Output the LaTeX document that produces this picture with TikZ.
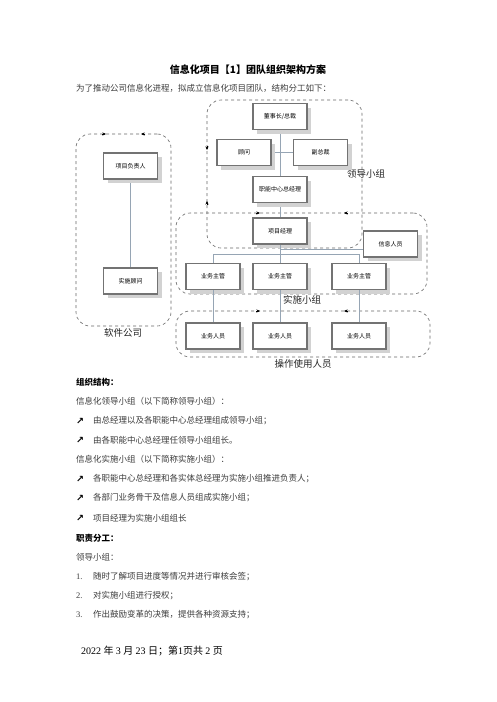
\documentclass[tikz,border=0pt]{standalone}
\usepackage{fontspec}
\newfontfamily\cjkfont{Noto Sans CJK SC}
\newfontfamily\serfont{Liberation Serif}
\newfontfamily\symfont{DejaVu Sans}
\usetikzlibrary{shadows,arrows.meta}
\definecolor{conn}{RGB}{150,165,180}
\definecolor{bodytxt}{RGB}{60,60,60}
\tikzset{
  x=1pt,y=-1pt,
  orgbox/.style={draw={rgb,255:red,115;green,115;blue,115}, line width=1.4pt, fill=white,
    minimum width=54pt, minimum height=26pt, inner sep=0pt,
    font=\cjkfont\fontsize{6}{7}\selectfont,
    drop shadow={shadow xshift=4pt, shadow yshift=-4pt, fill=gray!35, opacity=1}},
  grp/.style={draw=gray!80!black, dashed, line width=0.6pt, rounded corners=14pt, inner sep=0pt},
  grplabel/.style={font=\cjkfont\fontsize{9.5}{11}\selectfont, text=black!85, inner sep=0pt},
  conline/.style={draw=conn, line width=0.7pt},
  arrmark/.style={-{Stealth[length=3.5pt,width=3pt]}, draw=black, line width=0.4pt},
  bodyline/.style={anchor=west, inner sep=0pt, font=\cjkfont\fontsize{8.5}{10}\selectfont, text=bodytxt},
  headline/.style={anchor=west, inner sep=0pt, font=\cjkfont\bfseries\fontsize{8.5}{10}\selectfont, text=black},
  bul/.style={anchor=center, inner sep=0pt, font=\symfont\bfseries\fontsize{9.5}{10}\selectfont, text=black},
  numb/.style={anchor=west, inner sep=0pt, font=\serfont\fontsize{8.5}{10}\selectfont, text=bodytxt},
}
\begin{document}
\begin{tikzpicture}
\useasboundingbox[fill=white] (0,0) rectangle (496,702);

% title and intro
\node[inner sep=0pt, font=\cjkfont\bfseries\fontsize{10}{12}\selectfont] (title) at (248,70) {信息化项目【1】团队组织架构方案};
\node[bodyline] (intro) at (76,88) {为了推动公司信息化进程，拟成立信息化项目团队，结构分工如下：};

% group boxes
\node[grp, minimum width=155pt, minimum height=148pt] (lead) at (284.5,174) {};
\node[grp, minimum width=95pt, minimum height=192pt] (soft) at (123.5,230) {};
\node[grp, minimum width=251pt, minimum height=81pt] (impl) at (301.5,253.5) {};
\node[grp, minimum width=254pt, minimum height=46pt] (ops) at (303,334) {};

% arrow marks on group boxes
\draw[arrmark] (207,146) -- (207,150);
\draw[arrmark] (207,205) -- (207,201);
\draw[arrmark] (102,134) -- (106,134);
\draw[arrmark] (145,134) -- (141,134);
\draw[arrmark] (256,213) -- (260,213);
\draw[arrmark] (348,213) -- (344,213);
\draw[arrmark] (256,311) -- (260,311);
\draw[arrmark] (348,311) -- (344,311);

% group labels
\node[grplabel] (llead) at (366,174) {领导小组};
\node[grplabel] (limpl) at (302,300) {实施小组};
\node[grplabel] (lsoft) at (123,333) {软件公司};
\node[grplabel] (lops) at (303,364) {操作使用人员};

% connectors (drawn first, under boxes)
\draw[conline] (280,130) -- (280,218);
\draw[conline] (244,152.5) -- (320.5,152.5);
\draw[conline] (130.5,179) -- (130.5,268);

% org boxes
\node[orgbox] (dsz) at (280,116.5) {董事长/总裁};
\node[orgbox] (gw) at (244,152.5) {顾问};
\node[orgbox] (fzc) at (320.5,152.5) {副总裁};
\node[orgbox] (zn) at (280,189.5) {职能中心总经理};
\node[orgbox] (xmfz) at (130.5,166) {项目负责人};
\node[orgbox] (ssgw) at (130.5,281) {实施顾问};
\node[orgbox] (pm) at (280,231) {项目经理};
\node[orgbox] (xx) at (390.5,244) {信息人员};
\node[orgbox] (zg1) at (213,276.5) {业务主管};
\node[orgbox] (zg2) at (280,276.5) {业务主管};
\node[orgbox] (zg3) at (359,276.5) {业务主管};
\node[orgbox] (ry1) at (213,336) {业务人员};
\node[orgbox] (ry2) at (280,336) {业务人员};
\node[orgbox] (ry3) at (359,336) {业务人员};

% lower connectors
\draw[conline] (pm.south) -- ++(0,10) coordinate (j);
\draw[conline] (j) -| (zg1.north);
\draw[conline] (j) -| (zg3.north);
\draw[conline] (j) -- (zg2.north);
\path (pm.south) ++(0,5) coordinate (k);
\draw[conline] (k) -- (k -| xx.west);
\draw[conline] (zg1.south) -- (ry1.north);
\draw[conline] (zg2.south) -- (ry2.north);
\draw[conline] (zg3.south) -- (ry3.north);

% text section
\node[headline] (h1) at (76,382) {组织结构：};
\node[bodyline] (t1) at (76,401) {信息化领导小组（以下简称领导小组）：};
\node[bul] (b1) at (80,421) {↗};
\node[bodyline] (t2) at (93,421) {由总经理以及各职能中心总经理组成领导小组；};
\node[bul] (b2) at (80,440) {↗};
\node[bodyline] (t3) at (93,440) {由各职能中心总经理任领导小组组长。};
\node[bodyline] (t4) at (76,459) {信息化实施小组（以下简称实施小组）：};
\node[bul] (b3) at (80,479) {↗};
\node[bodyline] (t5) at (93,479) {各职能中心总经理和各实体总经理为实施小组推进负责人；};
\node[bul] (b4) at (80,498) {↗};
\node[bodyline] (t6) at (93,498) {各部门业务骨干及信息人员组成实施小组；};
\node[bul] (b5) at (80,518) {↗};
\node[bodyline] (t7) at (93,518) {项目经理为实施小组组长};
\node[headline] (h2) at (76,538) {职责分工：};
\node[bodyline] (t8) at (76,557) {领导小组：};
\node[numb] (n1) at (76,577) {1.};
\node[bodyline] (t9) at (93,577) {随时了解项目进度等情况并进行审核会签；};
\node[numb] (n2) at (76,596) {2.};
\node[bodyline] (t10) at (93,596) {对实施小组进行授权；};
\node[numb] (n3) at (76,615) {3.};
\node[bodyline] (t11) at (93,615) {作出鼓励变革的决策，提供各种资源支持；};

% footer
\node[anchor=west, inner sep=0pt, font=\fontsize{10}{12}\selectfont] (foot) at (81,651)
  {\serfont 2022 \cjkfont 年 \serfont 3 \cjkfont 月 \serfont 23 \cjkfont 日；第\serfont 1\cjkfont 页共 \serfont 2 \cjkfont 页};
\end{tikzpicture}
\end{document}
